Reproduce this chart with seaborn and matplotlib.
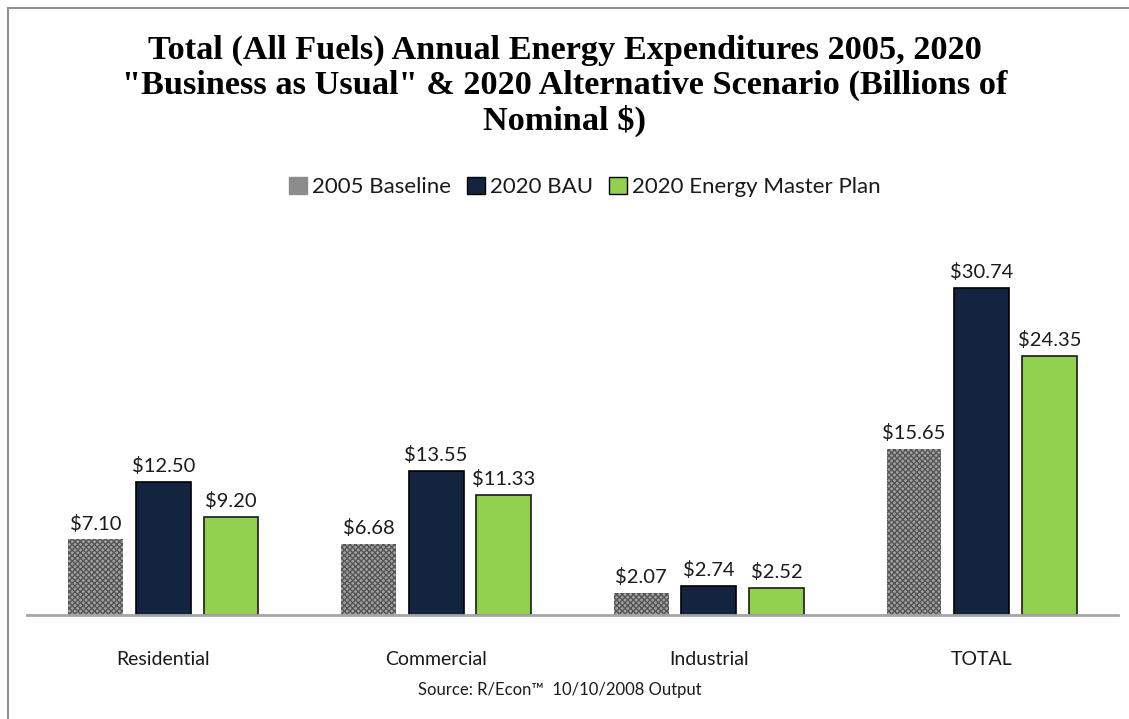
import matplotlib
matplotlib.use("Agg")
import matplotlib.pyplot as plt
import seaborn as sns
import pandas as pd
from matplotlib.patches import Patch, Rectangle

categories = ["Residential", "Commercial", "Industrial", "TOTAL"]
series_names = ["2005 Baseline", "2020 BAU", "2020 Energy Master Plan"]
baseline_2005 = [7.10, 6.68, 2.07, 15.65]
bau_2020 = [12.50, 13.55, 2.74, 30.74]
emp_2020 = [9.20, 11.33, 2.52, 24.35]

title = ("Total (All Fuels) Annual Energy Expenditures 2005, 2020\n"
         "\"Business as Usual\" & 2020 Alternative Scenario (Billions of\n"
         "Nominal $)")
source = "Source: R/Econ\u2122  10/10/2008 Output"

rows = []
for name, vals in zip(series_names, [baseline_2005, bau_2020, emp_2020]):
    for c, v in zip(categories, vals):
        rows.append({"Category": c, "Series": name, "Value": v})
df = pd.DataFrame(rows)

sns.set_theme(style="white")
plt.rcParams["font.family"] = ["Lato", "DejaVu Sans"]
plt.rcParams["hatch.linewidth"] = 1.0

colors = ["#8c8c8c", "#12243f", "#92d050"]
fig = plt.figure(figsize=(11.29, 7.19), dpi=100)
ax = fig.add_axes([27 / 1129, 1 - 615 / 719, (1118 - 27) / 1129, (615 - 230) / 719])

sns.barplot(data=df, x="Category", y="Value", hue="Series", order=categories,
            hue_order=series_names, palette=colors, width=0.744, gap=0.19,
            ax=ax, legend=False, saturation=1)

for i, cont in enumerate(ax.containers):
    for p in cont.patches:
        if i == 0:
            p.set_facecolor("#a3a3a3")
            p.set_edgecolor("#555555")
            p.set_hatch("xxxxxx")
            p.set_linewidth(0)
        elif i == 1:
            p.set_edgecolor("#000000")
            p.set_linewidth(1.2)
        else:
            p.set_edgecolor("#1a1a1a")
            p.set_linewidth(1.2)
    ax.bar_label(cont, labels=[f"${v:.2f}" for v in cont.datavalues],
                 padding=5, fontsize=14.5, color="#1a1a1a")

ax.set_xlim(-0.5, 3.5)
ax.set_ylim(0, 36.2)
ax.set_xlabel("")
ax.set_ylabel("")
ax.set_yticks([])
ax.tick_params(axis="x", length=0, pad=26, labelsize=14, labelcolor="#1a1a1a")
for s in ["top", "right", "left"]:
    ax.spines[s].set_visible(False)
ax.spines["bottom"].set_color("#a6a6a6")
ax.spines["bottom"].set_linewidth(2)

fig.text(0.5, 1 - 86 / 719, title, ha="center", va="center",
         family="Liberation Serif", fontweight="bold", fontsize=24.7,
         linespacing=1.15, color="#000000")

handles = [Patch(facecolor="#8c8c8c", edgecolor="#8c8c8c"),
           Patch(facecolor="#12243f", edgecolor="#000000"),
           Patch(facecolor="#92d050", edgecolor="#000000")]
fig.legend(handles, series_names, loc="center", bbox_to_anchor=(0.518, 1 - 187 / 719),
           ncol=3, frameon=False, fontsize=16, handlelength=0.8, handleheight=0.8,
           handletextpad=0.25, columnspacing=0.7, labelcolor="#1a1a1a")

fig.text(0.496, 1 - 690 / 719, source, ha="center", va="center", fontsize=12,
         color="#1a1a1a")

fig.patches.append(Rectangle((8 / 1129, -0.1), 1.2, 1 - 8 / 719 + 0.1,
                             transform=fig.transFigure, fill=False,
                             edgecolor="#909090", linewidth=1.5, zorder=-1))

fig.savefig("out.png", dpi=100)
